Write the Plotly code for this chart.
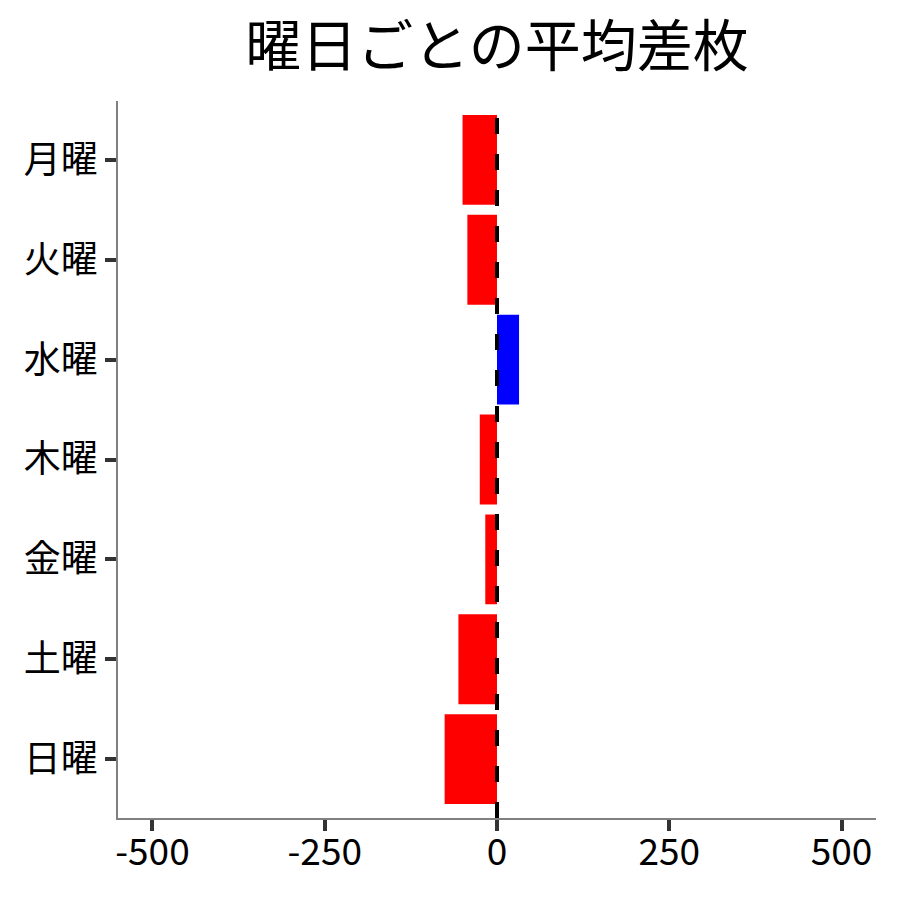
import plotly.graph_objects as go

days = ["月曜", "火曜", "水曜", "木曜", "金曜", "土曜", "日曜"]
avg_diff = [-50, -43, 32, -25, -17, -56, -76]
x_ticks = [-500, -250, 0, 250, 500]
title_text = "曜日ごとの平均差枚"

colors = ["#0000FF" if v > 0 else "#FF0000" for v in avg_diff]
FONT = "Noto Sans CJK JP"

fig = go.Figure()
fig.add_trace(go.Bar(
    x=avg_diff, y=days, orientation="h",
    marker=dict(color=colors, line=dict(width=0)),
    width=0.9, showlegend=False,
))
fig.add_vline(x=0, line=dict(color="black", width=4, dash="16px,20px"), layer="above")

fig.update_layout(
    width=900, height=900,
    paper_bgcolor="white", plot_bgcolor="white",
    margin=dict(l=110, r=32, t=93, b=90),
    font=dict(family=FONT, color="black"),
    title=dict(text=title_text, x=0.5, xref="paper", xanchor="center",
               y=0.957, yref="container", yanchor="middle",
               font=dict(size=56, family=FONT, color="black")),
)
fig.update_xaxes(
    range=[-550, 550], tickvals=x_ticks, ticktext=[str(v) for v in x_ticks],
    showgrid=False, zeroline=False,
    showline=True, linecolor="#808080", linewidth=1.5,
    ticks="outside", ticklen=11, tickwidth=3.5, tickcolor="#333333",
    tickfont=dict(size=37, family=FONT, color="black"),
    ticklabelstandoff=-10,
)
fig.update_yaxes(
    categoryorder="array", categoryarray=days, autorange=False,
    range=[6.59, -0.59],
    showgrid=False, zeroline=False,
    showline=True, linecolor="#808080", linewidth=1.5,
    ticks="outside", ticklen=11, tickwidth=3.5, tickcolor="#333333",
    tickfont=dict(size=37, family=FONT, color="black"),
)

fig.write_html("out.html")
